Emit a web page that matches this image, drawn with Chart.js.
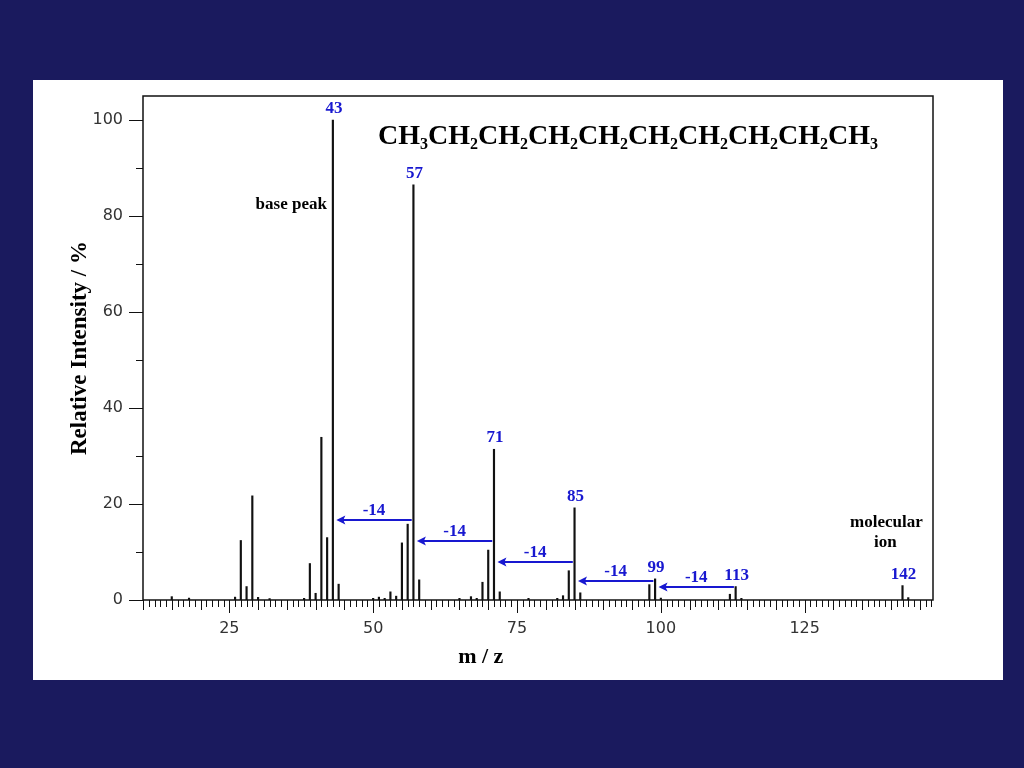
<!DOCTYPE html>
<html>
<head>
<meta charset="utf-8">
<script src="https://cdn.jsdelivr.net/npm/chart.js@4"></script>
<style>
  body { margin: 0; background: #1a1a5e; width: 1024px; height: 768px; overflow: hidden; }
  #panel { position: absolute; left: 33px; top: 80px; width: 970px; height: 600px; background: #fff; }
</style>
</head>
<body>
<div id="panel"><canvas id="myChart" width="970" height="600"></canvas></div>
<script>
// mass spectrum of decane
const mz = [15, 18, 26, 27, 28, 29, 30, 32, 38, 39, 40, 41, 42, 43, 44,
            50, 51, 52, 53, 54, 55, 56, 57, 58, 65, 67, 68, 69, 70, 71, 72,
            77, 82, 83, 84, 85, 86, 98, 99, 100, 112, 113, 114, 142, 143];
const intensity = [0.7, 0.4, 0.6, 12.4, 2.8, 21.7, 0.55, 0.3, 0.35, 7.6, 1.4, 33.9, 13.0, 100, 3.3,
                   0.35, 0.6, 0.35, 1.7, 0.8, 11.9, 15.8, 86.5, 4.2, 0.35, 0.7, 0.35, 3.7, 10.4, 31.4, 1.7,
                   0.35, 0.35, 0.9, 6.1, 19.2, 1.5, 3.2, 4.4, 0.4, 1.2, 2.8, 0.35, 3.0, 0.5];

const labelledPeaks = [43, 57, 71, 85, 99, 113, 142];
const lossFrom = [57, 71, 85, 99, 113];
const lossLevel = [16.7, 12.3, 7.85, 3.96, 2.65];
const lossText = '-14';

const xTicks = [25, 50, 75, 100, 125];
const yTicks = [0, 20, 40, 60, 80, 100];

const formula = 'CH3CH2CH2CH2CH2CH2CH2CH2CH2CH3';
const xTitle = 'm / z';
const yTitle = 'Relative Intensity / %';

const blue = '#1818d0';
const serif = '"Liberation Serif", "Times New Roman", serif';

// ticks, frame and all the notes drawn on top
const overlay = {
    id: 'overlay',
    afterDatasetsDraw(chart) {
        const {ctx, chartArea: a, scales: {x, y}} = chart;
        ctx.save();

        ctx.strokeStyle = '#111';
        ctx.lineWidth = 1;
        // x tick marks, one per unit
        for (let v = Math.ceil(x.min); v <= Math.floor(x.max); v++) {
            const len = v % 25 === 0 ? 13 : (v % 5 === 0 ? 10 : 7);
            const px = Math.round(x.getPixelForValue(v)) + 0.5;
            ctx.beginPath();
            ctx.moveTo(px, a.bottom);
            ctx.lineTo(px, a.bottom + len);
            ctx.stroke();
        }
        // y tick marks every 10
        for (let v = 0; v <= 100; v += 10) {
            const len = v % 20 === 0 ? 14 : 7;
            const py = Math.round(y.getPixelForValue(v)) + 0.5;
            ctx.beginPath();
            ctx.moveTo(a.left - len, py);
            ctx.lineTo(a.left, py);
            ctx.stroke();
        }
        // frame
        ctx.lineWidth = 1.5;
        ctx.strokeRect(a.left, a.top, a.right - a.left, a.bottom - a.top);

        // x axis title
        ctx.fillStyle = '#000';
        ctx.font = 'bold 22px ' + serif;
        ctx.textAlign = 'center';
        ctx.textBaseline = 'alphabetic';
        ctx.fillText(xTitle, x.getPixelForValue(68.7), a.bottom + 63);

        // peak labels
        ctx.fillStyle = blue;
        ctx.font = 'bold 17px ' + serif;
        labelledPeaks.forEach(m => {
            const i = mz.indexOf(m);
            ctx.fillText(String(m), x.getPixelForValue(m) + 1, y.getPixelForValue(intensity[i]) - 7);
        });

        // -14 arrows
        ctx.strokeStyle = blue;
        ctx.lineWidth = 2;
        lossFrom.forEach((m, i) => {
            const x0 = x.getPixelForValue(m - 0.3);
            const x1 = x.getPixelForValue(m - 14 + 0.6);
            const py = Math.round(y.getPixelForValue(lossLevel[i]));
            ctx.beginPath();
            ctx.moveTo(x0, py);
            ctx.lineTo(x1 + 6, py);
            ctx.stroke();
            ctx.beginPath();
            ctx.moveTo(x1, py);
            ctx.lineTo(x1 + 9, py - 4.5);
            ctx.lineTo(x1 + 7, py);
            ctx.lineTo(x1 + 9, py + 4.5);
            ctx.closePath();
            ctx.fill();
            ctx.fillText(lossText, (x0 + x1) / 2, py - 5);
        });

        // black notes
        ctx.fillStyle = '#000';
        ctx.font = 'bold 17px ' + serif;
        ctx.textAlign = 'right';
        ctx.fillText('base peak', x.getPixelForValue(43) - 6, y.getPixelForValue(81.5));
        ctx.textAlign = 'center';
        ctx.fillText('molecular', x.getPixelForValue(139.2), y.getPixelForValue(15.2));
        ctx.fillText('ion', x.getPixelForValue(139.0), y.getPixelForValue(11.0));

        // structural formula with subscripts
        ctx.textAlign = 'left';
        let fx = a.left + 235;
        const fy = a.top + 48;
        for (const ch of formula) {
            const sub = /\d/.test(ch);
            ctx.font = sub ? 'bold 16px ' + serif : 'bold 28px ' + serif;
            ctx.fillText(ch, fx, sub ? fy + 5 : fy);
            fx += ctx.measureText(ch).width;
        }
        ctx.restore();
    }
};

const ctx = document.getElementById('myChart').getContext('2d');
new Chart(ctx, {
    type: 'bar',
    data: {
        datasets: [{
            data: mz.map((m, i) => ({x: m, y: intensity[i]})),
            backgroundColor: '#111',
            barThickness: 1.5,
            borderWidth: 0
        }]
    },
    options: {
        responsive: false,
        animation: false,
        devicePixelRatio: 1,
        layout: { padding: { top: 16, right: 70, left: 0, bottom: 0 } },
        plugins: {
            legend: { display: false },
            tooltip: { enabled: false }
        },
        scales: {
            x: {
                type: 'linear',
                min: 10,
                max: 147.3,
                offset: false,
                grid: { display: false, drawTicks: false },
                border: { display: false },
                afterBuildTicks: scale => { scale.ticks = xTicks.map(v => ({value: v})); },
                afterFit: scale => {
                    scale.height = 80;
                    scale.paddingLeft = 0;
                    scale.paddingRight = 0;
                },
                ticks: {
                    padding: 19,
                    color: '#333',
                    font: { family: '"DejaVu Sans"', size: 16 },
                    maxRotation: 0,
                    autoSkip: false
                }
            },
            y: {
                min: 0,
                max: 105,
                grid: { display: false, drawTicks: false },
                border: { display: false },
                afterBuildTicks: scale => { scale.ticks = yTicks.map(v => ({value: v})); },
                afterFit: scale => {
                    scale.width = 110;
                    scale.paddingTop = 0;
                    scale.paddingBottom = 0;
                },
                ticks: {
                    padding: 20,
                    color: '#333',
                    font: { family: '"DejaVu Sans"', size: 16 }
                },
                title: {
                    display: true,
                    text: yTitle,
                    color: '#000',
                    font: { family: serif, size: 23, weight: 'bold' },
                    padding: { top: 33, bottom: 0 }
                }
            }
        }
    },
    plugins: [overlay]
});
</script>
</body>
</html>
